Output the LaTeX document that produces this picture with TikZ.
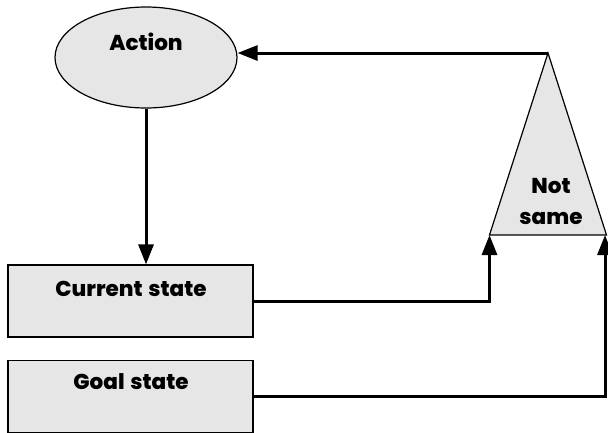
\documentclass[tikz,border=0pt]{standalone}
\usepackage{fontspec}
\setmainfont{Poppins}
\newfontfamily\heavyfont{Poppins ExtraBold}[WordSpace=1.4]
\usetikzlibrary{shapes.geometric,arrows.meta}
\definecolor{boxfill}{HTML}{E6E6E6}
\tikzset{
  shapeline/.style={draw=black, line width=1.2pt, fill=boxfill},
  statebox/.style={shapeline, minimum width=245pt, minimum height=72pt, inner sep=0pt},
  label/.style={font=\heavyfont\fontsize{21.5}{26}\selectfont},
  link/.style={line width=3pt, -{Triangle[length=20pt,width=15pt]}},
}
\begin{document}
\begin{tikzpicture}[x=1pt,y=-1pt]
\useasboundingbox (0,0) rectangle (608,432);
% action ellipse
\node[shapeline, ellipse, minimum width=182pt, minimum height=101pt, inner sep=0pt] (action) at (146,57.5) {};
\node[label] (actiontxt) at (146,42) {Action};
% state boxes
\node[statebox] (current) at (130.5,301) {};
\node[label] (currenttxt) at (131,289) {Current state};
\node[statebox] (goal) at (130.5,396.5) {};
\node[label] (goaltxt) at (131,382) {Goal state};
% comparison triangle
\draw[shapeline] (548,53) coordinate (apex) -- (606.5,235) coordinate (baseR) -- (489.5,235) coordinate (baseL) -- cycle;
\node[label, align=center, font=\heavyfont\fontsize{21.5}{31}\selectfont] (cmp) at (551,201) {Not\\same};
% connectors
\draw[link] (action.south) -- (action.south |- current.north);
\draw[link] (apex) -- (action.east |- apex);
\draw[link] (current.east) -| (baseL);
\draw[link] (goal.east) -| ([xshift=-1.5pt]baseR);
\end{tikzpicture}
\end{document}
